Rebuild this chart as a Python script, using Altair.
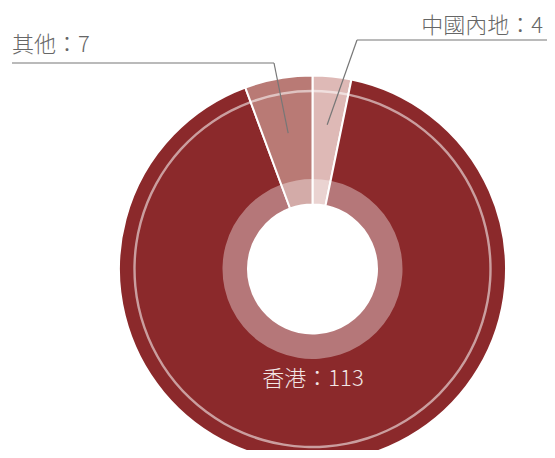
import math
import altair as alt
import pandas as pd

# ---- data ----
categories = ["中國內地", "香港", "其他"]
values = [4, 113, 7]
colors = ["#DEB9B6", "#8B292B", "#B97A75"]

# ---- layout / style constants ----
W, H = 539, 442
CX, CY = 304.5, 261.0
R_OUT, R_IN = 193.5, 64.5
RING_OUT = 90
CIRCLE_R = 178
FONT = "Noto Sans CJK TC"

df = pd.DataFrame({"cat": categories, "value": values, "ord": list(range(len(values)))})
df["label"] = [f"{c}：{v}" for c, v in zip(categories, values)]

total = sum(values)
cum = 0
mids = {}
for c, v in zip(categories, values):
    mids[c] = (cum + v / 2) / total * 2 * math.pi
    cum += v

def polar(cat, r):
    a = mids[cat]
    return CX + r * math.sin(a), CY - r * math.cos(a)

theta = alt.Theta("value:Q", stack=True)
order = alt.Order("ord:Q")
pos = dict(x=alt.value(CX), y=alt.value(CY))

slices = alt.Chart(df).mark_arc(
    innerRadius=R_IN, outerRadius=R_OUT, stroke="white", strokeWidth=2
).encode(
    theta=theta, order=order,
    color=alt.Color("cat:N", scale=alt.Scale(domain=categories, range=colors), legend=None),
    **pos,
)

ring = alt.Chart(df).mark_arc(
    innerRadius=R_IN, outerRadius=RING_OUT, fill="white", fillOpacity=0.37, strokeWidth=0
).encode(theta=theta, order=order, **pos)

circle = alt.Chart(df).mark_arc(
    innerRadius=CIRCLE_R - 1.2, outerRadius=CIRCLE_R + 1.2, fill="white", fillOpacity=0.55, strokeWidth=0
).encode(theta=theta, order=order, **pos)

# leader lines (annotation)
sx1, sy1 = polar("其他", 138)
sx2, sy2 = polar("中國內地", 145)
lines = pd.DataFrame({
    "x": [4, 266, 539, 349],
    "y": [55, 55, 32, 32],
    "x2": [266, sx1, 349, sx2],
    "y2": [55, sy1, 32, sy2],
})
leaders = alt.Chart(lines).mark_rule(color="#777777", strokeWidth=1.2).encode(
    x=alt.X("x:Q", scale=None), y=alt.Y("y:Q", scale=None),
    x2="x2:Q", y2="y2:Q",
)

lab_other = alt.Chart(df[df.cat == "其他"]).mark_text(
    align="left", baseline="alphabetic", font=FONT, fontSize=22, fontWeight=300, color="#666666"
).encode(text="label:N", x=alt.value(4), y=alt.value(44))

lab_cn = alt.Chart(df[df.cat == "中國內地"]).mark_text(
    align="right", baseline="alphabetic", font=FONT, fontSize=22, fontWeight=300, color="#666666"
).encode(text="label:N", x=alt.value(535), y=alt.value(25))

lab_hk = alt.Chart(df[df.cat == "香港"]).mark_text(
    align="center", baseline="alphabetic", font=FONT, fontSize=22, fontWeight=300, color="#F2E6E6"
).encode(text="label:N", x=alt.value(305), y=alt.value(378))

chart = alt.layer(slices, ring, circle, leaders, lab_other, lab_cn, lab_hk).properties(
    width=W, height=H, padding=0, autosize="none"
).configure_view(stroke=None)

chart.save("out.html", embed_options={"renderer": "svg", "actions": False})
